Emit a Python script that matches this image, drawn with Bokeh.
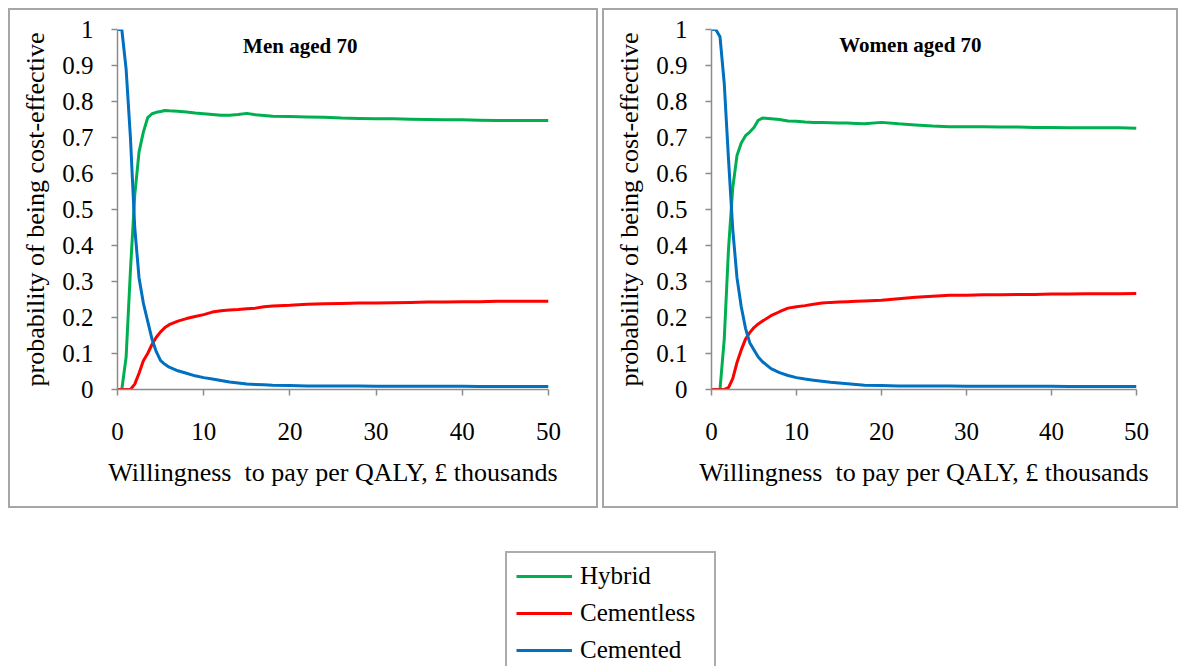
from bokeh.plotting import figure
from bokeh.models import Range1d, FixedTicker, Label, Legend, LegendItem, Spacer
from bokeh.layouts import row, column
from bokeh.embed import file_html
from bokeh.resources import INLINE

FONT = "Liberation Serif"

# ---------------- data ----------------
wtp = [0, 0.5, 1, 1.5, 2, 2.5, 3, 3.5, 4, 4.5, 5, 5.5, 6, 7, 8, 9, 10, 11, 12, 13, 14, 15,
       16, 17, 18, 20, 22, 24, 26, 28, 30, 32, 34, 36, 38, 40, 42, 44, 46, 48, 50]

men_hybrid = [0, 0, 0.09, 0.33, 0.54, 0.66, 0.715, 0.755, 0.766, 0.77, 0.772, 0.775, 0.774,
              0.773, 0.771, 0.768, 0.766, 0.764, 0.762, 0.762, 0.764, 0.767, 0.763, 0.761,
              0.759, 0.758, 0.757, 0.756, 0.754, 0.753, 0.752, 0.752, 0.751, 0.750, 0.749,
              0.749, 0.748, 0.747, 0.747, 0.747, 0.747]
men_cementless = [0, 0, 0, 0, 0.015, 0.045, 0.08, 0.10, 0.125, 0.145, 0.16, 0.172, 0.18,
                  0.19, 0.197, 0.203, 0.208, 0.215, 0.219, 0.221, 0.222, 0.224, 0.226, 0.230,
                  0.232, 0.234, 0.237, 0.238, 0.239, 0.240, 0.240, 0.241, 0.242, 0.243, 0.243,
                  0.244, 0.244, 0.245, 0.245, 0.245, 0.245]
men_cemented = [1.0, 1.0, 0.89, 0.70, 0.45, 0.31, 0.24, 0.19, 0.14, 0.105, 0.08, 0.07, 0.062,
                0.052, 0.045, 0.038, 0.033, 0.029, 0.025, 0.021, 0.018, 0.015, 0.014, 0.013,
                0.012, 0.011, 0.010, 0.010, 0.010, 0.010, 0.009, 0.009, 0.009, 0.009, 0.009,
                0.009, 0.008, 0.008, 0.008, 0.008, 0.008]

women_hybrid = [0, 0, 0, 0.14, 0.39, 0.56, 0.65, 0.685, 0.705, 0.715, 0.728, 0.748, 0.754,
                0.752, 0.750, 0.746, 0.745, 0.743, 0.742, 0.742, 0.741, 0.740, 0.740, 0.739,
                0.738, 0.742, 0.738, 0.735, 0.732, 0.730, 0.730, 0.730, 0.729, 0.729, 0.728,
                0.728, 0.727, 0.727, 0.727, 0.727, 0.726]
women_cementless = [0, 0, 0, 0, 0.005, 0.03, 0.075, 0.11, 0.14, 0.158, 0.172, 0.182, 0.19,
                    0.205, 0.216, 0.226, 0.230, 0.233, 0.237, 0.240, 0.242, 0.243, 0.244,
                    0.245, 0.246, 0.248, 0.252, 0.256, 0.259, 0.262, 0.262, 0.263, 0.263,
                    0.264, 0.264, 0.265, 0.265, 0.266, 0.266, 0.266, 0.267]
women_cemented = [1.0, 1.0, 0.98, 0.85, 0.64, 0.445, 0.31, 0.23, 0.17, 0.13, 0.11, 0.09, 0.077,
                  0.058, 0.047, 0.039, 0.033, 0.029, 0.026, 0.023, 0.020, 0.018, 0.016, 0.014,
                  0.012, 0.011, 0.010, 0.010, 0.010, 0.010, 0.009, 0.009, 0.009, 0.009, 0.009,
                  0.009, 0.008, 0.008, 0.008, 0.008, 0.008]

series_names = ["Hybrid", "Cementless", "Cemented"]
series_colors = ["#00b050", "#ff0000", "#0070c0"]

x_ticks = [0, 10, 20, 30, 40, 50]
y_ticks = [0, 0.1, 0.2, 0.3, 0.4, 0.5, 0.6, 0.7, 0.8, 0.9, 1]
y_tick_labels = ["0", "0.1", "0.2", "0.3", "0.4", "0.5", "0.6", "0.7", "0.8", "0.9", "1"]
x_label = "Willingness\u00a0 to pay per QALY, \u00a3 thousands"
y_label = "probability of being cost-effective"
titles = ["Men aged 70", "Women aged 70"]

AXIS_COLOR = "#8c8c8c"
BOX_COLOR = "#a6a6a6"


def make_panel(title, title_x, title_y, series, width, mbl, mbr, mbt, mbb):
    p = figure(width=width, height=500, x_range=Range1d(0, 50), y_range=Range1d(0, 1),
               output_backend="svg", toolbar_location=None,
               min_border_left=mbl, min_border_right=mbr, min_border_top=mbt,
               min_border_bottom=mbb)
    p.outline_line_color = None
    p.grid.visible = False
    # transparent canvas so the panel's own box (drawn by CSS) shows around it
    p.background_fill_alpha = 0
    p.border_fill_alpha = 0
    p.styles = {"box-shadow": "inset 0 0 0 2px " + BOX_COLOR, "background-color": "white"}

    for ys, c in zip(series, series_colors):
        p.line(wtp, ys, line_color=c, line_width=3)

    for ax in (p.xaxis[0], p.yaxis[0]):
        ax.axis_line_color = AXIS_COLOR
        ax.axis_line_width = 1.5
        ax.major_tick_line_color = AXIS_COLOR
        ax.major_tick_line_width = 1.5
        ax.major_tick_out = 6
        ax.major_tick_in = 0
        ax.minor_tick_line_color = None
        ax.major_label_text_font = FONT
        ax.major_label_text_font_size = "25px"
        ax.major_label_text_color = "black"
        ax.axis_label_text_font = FONT
        ax.axis_label_text_font_size = "26px"
        ax.axis_label_text_font_style = "normal"
        ax.axis_label_text_color = "black"

    p.xaxis[0].ticker = FixedTicker(ticks=x_ticks)
    p.xaxis[0].major_label_standoff = 27
    p.xaxis[0].axis_label = x_label
    p.xaxis[0].axis_label_standoff = 15

    p.yaxis[0].ticker = FixedTicker(ticks=y_ticks)
    p.yaxis[0].major_label_overrides = dict(zip(y_ticks, y_tick_labels))
    p.yaxis[0].major_label_standoff = 18
    p.yaxis[0].axis_label = y_label
    p.yaxis[0].axis_label_standoff = 9

    p.add_layout(Label(x=title_x, y=title_y, text=title, text_font=FONT,
                       text_font_size="21px", text_font_style="bold",
                       text_align="center", text_baseline="middle", text_color="black"))
    return p


p1 = make_panel(titles[0], 21.2, 0.953, [men_hybrid, men_cementless, men_cemented],
                590, 109, 50, 20, 119)
p2 = make_panel(titles[1], 23.4, 0.956, [women_hybrid, women_cementless, women_cemented],
                576, 109, 42, 21, 119)

# legend figure (lines are outside its visible y range; only the legend shows)
pl = figure(width=1170, height=158, x_range=Range1d(0, 50), y_range=Range1d(5, 6),
            output_backend="svg", toolbar_location=None, x_axis_type=None, y_axis_type=None,
            min_border_left=505, min_border_top=43, min_border_right=10, min_border_bottom=0)
pl.outline_line_color = None
pl.grid.visible = False
items = []
for name, c, ys in zip(series_names, series_colors, [men_hybrid, men_cementless, men_cemented]):
    r = pl.line(wtp, ys, line_color=c, line_width=3)
    items.append(LegendItem(label=name, renderers=[r]))
leg = Legend(items=items, location="top_left", label_text_font=FONT,
             label_text_font_size="25px", label_text_color="black",
             glyph_width=56, glyph_height=20, label_height=20, label_width=125,
             label_standoff=8, spacing=9, padding=9, margin=0,
             border_line_color="#5a5a5a", border_line_width=2,
             background_fill_color="white", background_fill_alpha=1)
pl.add_layout(leg, "center")

layout = column(Spacer(height=8),
                row(Spacer(width=8), p1, Spacer(width=4), p2),
                pl)
open("out.html", "w").write(file_html(layout, INLINE))
